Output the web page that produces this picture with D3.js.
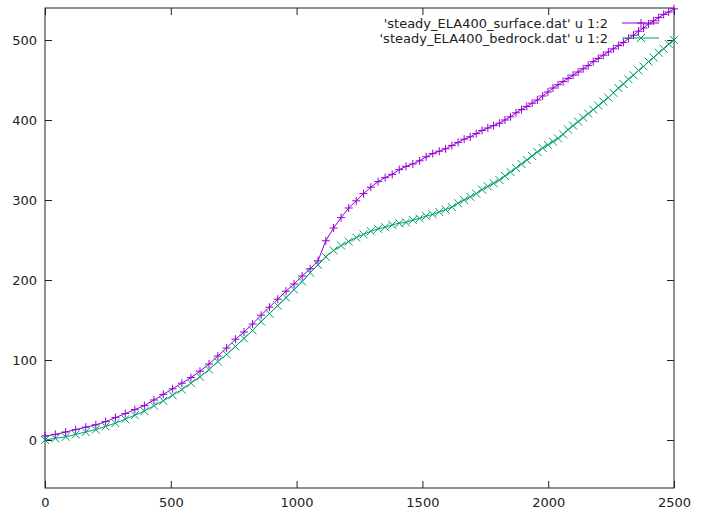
<!DOCTYPE html>
<html>
<head>
<meta charset="utf-8">
<script src="https://cdn.jsdelivr.net/npm/d3@7"></script>
<style>
  body { margin: 0; background: #fff; }
  text { font-family: "DejaVu Sans", sans-serif; font-size: 13px; fill: #222; }
</style>
</head>
<body>
<svg id="chart"></svg>
<script>
// x positions of the model grid (spacing gets finer toward the end)
const xs = [0, 41, 82, 122, 162, 202, 241, 280, 319, 357, 395, 433, 470, 507, 544, 580, 616, 652, 687, 722,
  757, 791, 825, 859, 892, 925, 958, 990, 1022, 1054, 1085, 1116, 1147, 1177, 1207, 1237, 1266, 1295, 1324, 1352,
  1380, 1408, 1435, 1462, 1489, 1515, 1541, 1567, 1592, 1617, 1642, 1666, 1690, 1714, 1737, 1760, 1783, 1806, 1828, 1850,
  1872, 1894, 1915, 1936, 1957, 1978, 1999, 2019, 2039, 2059, 2079, 2099, 2119, 2139, 2159, 2179, 2199, 2219, 2239, 2259,
  2279, 2299, 2319, 2339, 2359, 2379, 2399, 2419, 2439, 2459, 2479, 2500];

const surface = [5, 7, 10, 13, 16, 19, 23, 28, 33, 38, 43, 50, 57, 64, 71, 78, 86, 95, 105, 115,
  126, 135, 145, 156, 166, 176, 186, 195, 205, 214, 224, 249, 265, 278, 290, 299, 308, 316, 323, 328,
  332, 338, 342, 345, 349, 354, 358, 361, 364, 368, 372, 376, 379, 383, 387, 390, 393, 396, 400, 404,
  409, 413, 417, 421, 425, 430, 435, 440, 444, 448, 452, 456, 460, 464, 468, 473, 477, 481, 485, 489,
  493, 497, 502, 506, 511, 515, 520, 524, 528, 532, 535, 539];

const bedrock = [0, 2, 4, 7, 10, 13, 17, 21, 26, 31, 36, 43, 49, 56, 63, 71, 79, 88, 98, 107,
  117, 127, 137, 148, 158, 168, 178, 188, 198, 209, 219, 229, 237, 243, 248, 253, 257, 261, 264, 266,
  269, 271, 272, 275, 277, 280, 282, 285, 288, 291, 296, 300, 304, 308, 313, 317, 321, 325, 330, 335,
  340, 345, 350, 355, 360, 365, 369, 373, 377, 382, 388, 393, 398, 403, 408, 413, 418, 423, 428, 434,
  440, 445, 451, 456, 462, 467, 473, 478, 484, 489, 495, 500];

const xTicks = [0, 500, 1000, 1500, 2000, 2500];
const yTicks = [0, 100, 200, 300, 400, 500];

const series = [
  { name: "'steady_ELA400_surface.dat' u 1:2", values: surface, color: "#9400d3", mark: "plus" },
  { name: "'steady_ELA400_bedrock.dat' u 1:2", values: bedrock, color: "#009e73", mark: "cross" }
];

const width = 702, height = 514;
const mLeft = 45, mRight = 674, mTop = 8, mBottom = 488;
const tickLen = 7;

const svg = d3.select("#chart").attr("width", width).attr("height", height);

const x = d3.scaleLinear().domain([0, 2500]).range([mLeft, mRight]);
const y = d3.scaleLinear().domain([-60, 540]).range([mBottom, mTop]);

// border
svg.append("rect")
  .attr("x", mLeft).attr("y", mTop)
  .attr("width", mRight - mLeft).attr("height", mBottom - mTop)
  .attr("fill", "none").attr("stroke", "#222").attr("stroke-width", 1);

// axes, ticks pointing inward, mirrored on opposite sides
const xAxisB = d3.axisBottom(x).tickValues(xTicks).tickSize(-tickLen).tickPadding(10).tickFormat(d3.format("d"));
const xAxisT = d3.axisTop(x).tickValues(xTicks).tickSize(-tickLen).tickFormat("");
const yAxisL = d3.axisLeft(y).tickValues(yTicks).tickSize(-tickLen).tickPadding(8).tickFormat(d3.format("d"));
const yAxisR = d3.axisRight(y).tickValues(yTicks).tickSize(-tickLen).tickFormat("");

svg.append("g").attr("transform", `translate(0,${mBottom})`).call(xAxisB);
svg.append("g").attr("transform", `translate(0,${mTop})`).call(xAxisT);
svg.append("g").attr("transform", `translate(${mLeft},0)`).call(yAxisL);
svg.append("g").attr("transform", `translate(${mRight},0)`).call(yAxisR);

svg.selectAll(".domain").remove();
svg.selectAll(".tick line").attr("stroke", "#222");
svg.selectAll(".tick text")
  .style("font-family", "DejaVu Sans, sans-serif")
  .style("font-size", "13px")
  .attr("fill", "#222");

const line = d3.line().x(d => x(d[0])).y(d => y(d[1]));

function drawMark(g, cx, cy, kind, color) {
  const s = 4;
  if (kind === "plus") {
    g.append("path")
      .attr("d", `M${cx - s},${cy}H${cx + s}M${cx},${cy - s}V${cy + s}`)
      .attr("stroke", color).attr("stroke-width", 1).attr("fill", "none");
  } else {
    g.append("path")
      .attr("d", `M${cx - s},${cy - s}L${cx + s},${cy + s}M${cx - s},${cy + s}L${cx + s},${cy - s}`)
      .attr("stroke", color).attr("stroke-width", 1).attr("fill", "none");
  }
}

const plot = svg.append("g");
series.forEach(s => {
  const pts = xs.map((xv, i) => [xv, s.values[i]]);
  plot.append("path")
    .datum(pts)
    .attr("d", line)
    .attr("fill", "none")
    .attr("stroke", s.color)
    .attr("stroke-width", 1);
  const mg = plot.append("g");
  pts.forEach(p => drawMark(mg, x(p[0]), y(p[1]), s.mark, s.color));
});

// legend
const legend = svg.append("g");
series.forEach((s, i) => {
  const ly = 23 + i * 15;
  legend.append("text")
    .attr("x", 608).attr("y", ly)
    .attr("dy", "0.35em")
    .attr("text-anchor", "end")
    .text(s.name);
  legend.append("line")
    .attr("x1", 622).attr("x2", 659)
    .attr("y1", ly).attr("y2", ly)
    .attr("stroke", s.color).attr("stroke-width", 1);
  drawMark(legend, 641, ly, s.mark, s.color);
});
</script>
</body>
</html>
